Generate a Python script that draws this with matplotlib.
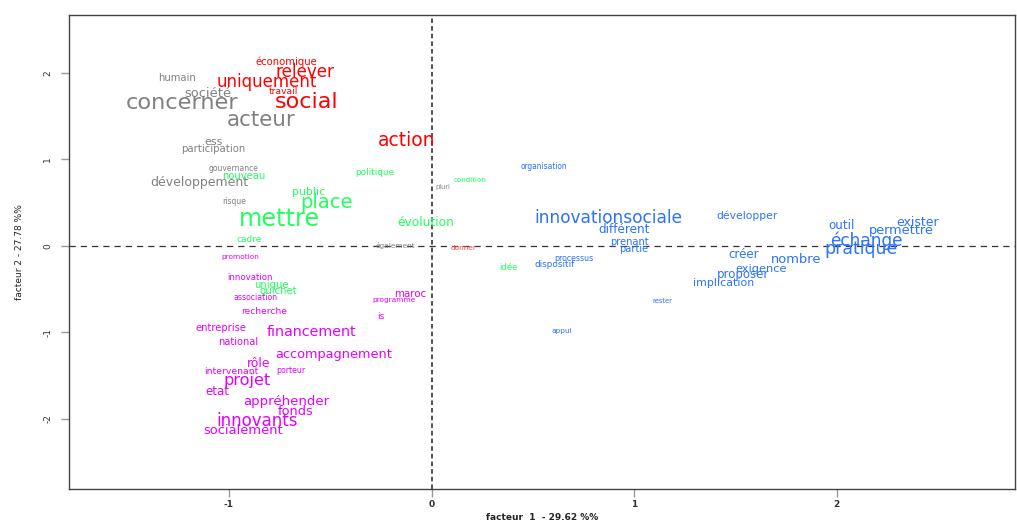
import matplotlib
matplotlib.use("Agg")
import matplotlib.pyplot as plt

# Word coordinates on the first two factors, grouped by class
words = [
    "économique", "relever", "uniquement", "travail", "social", "action", "donner",
    "humain", "société", "concerner", "acteur", "ess", "participation", "gouvernance",
    "développement", "pluri", "risque", "également",
    "nouveau", "politique", "condition", "public", "place", "mettre", "évolution",
    "cadre", "unique", "guichet", "idée",
    "promotion", "innovation", "association", "maroc", "programme", "recherche", "is",
    "entreprise", "financement", "national", "accompagnement", "rôle", "intervenant",
    "porteur", "projet", "etat", "appréhender", "fonds", "innovants", "socialement",
    "organisation", "innovationsociale", "différent", "prenant", "partie", "processus",
    "dispositif", "rester", "appui", "développer", "outil", "exister", "permettre",
    "échange", "pratique", "créer", "nombre", "exigence", "proposer", "implication",
]

factor1 = [
    -0.715, -0.627, -0.814, -0.730, -0.617, -0.123, 0.158,
    -1.258, -1.105, -1.233, -0.839, -1.075, -1.080, -0.977,
    -1.145, 0.054, -0.972, -0.178,
    -0.927, -0.281, 0.192, -0.607, -0.518, -0.750, -0.030,
    -0.898, -0.789, -0.755, 0.380,
    -0.942, -0.898, -0.868, -0.104, -0.187, -0.829, -0.252,
    -1.041, -0.592, -0.957, -0.483, -0.853, -0.987,
    -0.696, -0.908, -1.056, -0.715, -0.671, -0.863, -0.932,
    0.557, 0.873, 0.952, 0.977, 0.997, 0.705,
    0.607, 1.140, 0.641, 1.559, 2.023, 2.398, 2.319,
    2.146, 2.121, 1.539, 1.801, 1.628, 1.539, 1.441,
]

factor2 = [
    2.127, 2.012, 1.896, 1.780, 1.665, 1.214, -0.023,
    1.942, 1.757, 1.653, 1.457, 1.202, 1.121, 0.890,
    0.728, 0.682, 0.509, 0.000,
    0.809, 0.844, 0.763, 0.624, 0.497, 0.312, 0.266,
    0.069, -0.451, -0.520, -0.254,
    -0.127, -0.370, -0.601, -0.555, -0.624, -0.763, -0.821,
    -0.948, -0.994, -1.110, -1.260, -1.364, -1.457,
    -1.445, -1.561, -1.688, -1.803, -1.919, -2.023, -2.139,
    0.913, 0.324, 0.185, 0.046, -0.035, -0.150,
    -0.220, -0.636, -0.983, 0.347, 0.231, 0.266, 0.173,
    0.058, -0.035, -0.104, -0.162, -0.266, -0.335, -0.428,
]

# Relative weight of each word (text size in pt before scaling)
sizes = [
    8.5, 14.0, 13.9, 7.7, 18.6, 15.7, 6.2,
    8.4, 10.9, 18.8, 17.9, 9.2, 8.5, 6.4,
    10.5, 5.6, 6.4, 6.2,
    8.4, 7.4, 6.0, 9.2, 16.3, 20.1, 10.3,
    7.5, 8.5, 8.5, 7.1,
    6.2, 7.2, 6.5, 8.6, 6.2, 7.6, 7.5,
    8.4, 11.9, 8.3, 10.8, 10.4, 7.9,
    6.6, 13.5, 9.9, 11.1, 10.8, 13.9, 10.9,
    6.3, 14.2, 10.1, 8.3, 8.3, 6.6,
    7.4, 5.7, 6.2, 9.0, 10.0, 10.5, 10.8,
    14.2, 14.4, 9.9, 10.9, 9.5, 9.8, 9.2,
]

# Class membership of each word
classes = (
    ["red"] * 6 + ["lightred"] +
    ["grey"] * 11 +
    ["green"] * 11 +
    ["magenta"] * 20 +
    ["blue"] * 20
)

palette = {
    "red": "#FF0000",
    "lightred": "#FF4A3D",
    "grey": "#808080",
    "green": "#22FF5E",
    "magenta": "#E200FF",
    "blue": "#2A72FF",
}

x_label = "facteur  1  - 29.62 %%"
y_label = "facteur 2 - 27.78 %%"
x_ticks = [-1, 0, 1, 2]
y_ticks = [-2, -1, 0, 1, 2]

SIZE_SCALE = 0.86

fig = plt.figure(figsize=(10.17, 5.21), dpi=100)
ax = fig.add_axes([0.0678, 0.0614, 0.9302, 0.9098])

for w, fx, fy, s, c in zip(words, factor1, factor2, sizes, classes):
    ax.text(fx, fy, w, fontsize=s * SIZE_SCALE, color=palette[c],
            ha="center", va="center", family="DejaVu Sans")

ax.axhline(0, color="#333333", linestyle=(0, (5, 4)), linewidth=0.9, zorder=0)
ax.axvline(0, color="#222222", linestyle=(0, (3, 2)), linewidth=1.1, zorder=0)

ax.set_xlim(-1.79, 2.88)
ax.set_ylim(-2.81, 2.67)
ax.set_xticks(x_ticks)
ax.set_yticks(y_ticks)
ax.set_xticklabels([str(t) for t in x_ticks], fontsize=6.5, color="#333333",
                   fontweight="bold")
ax.set_yticklabels([str(t) for t in y_ticks], fontsize=6.5, color="#333333",
                   rotation=90, va="center")
ax.tick_params(axis="both", direction="out", length=6, width=1, color="#999999")
ax.tick_params(axis="x", pad=2)
ax.tick_params(axis="y", pad=6)

for sp in ax.spines.values():
    sp.set_color("#444444")
    sp.set_linewidth(1.0)

ax.set_xlabel(x_label, fontsize=6.5, color="#222222", labelpad=3,
              fontweight="bold")
ax.set_ylabel(y_label, fontsize=6.5, color="#222222", labelpad=14)

fig.savefig("out.png", dpi=100)
